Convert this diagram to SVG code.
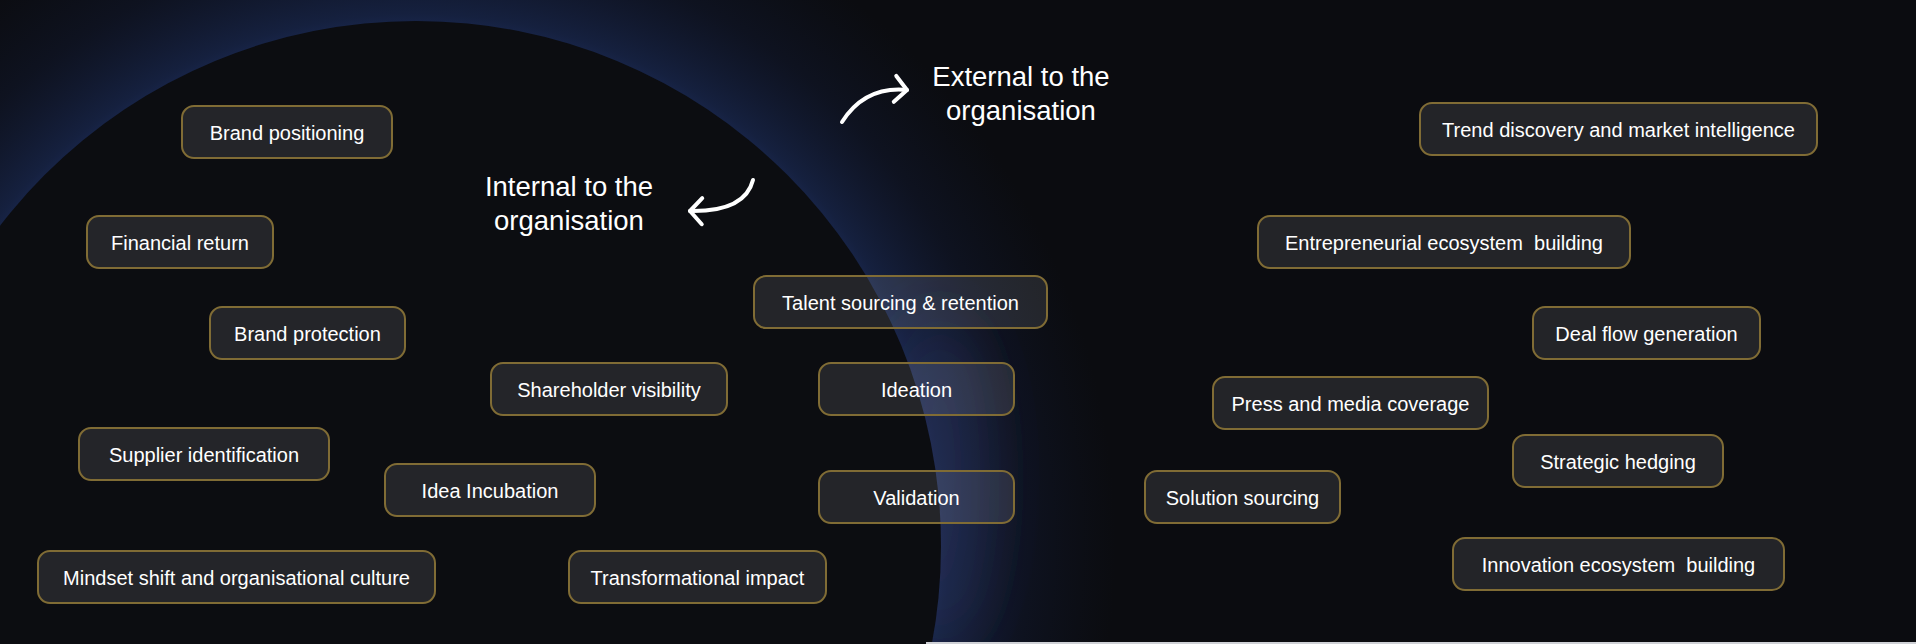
<svg xmlns="http://www.w3.org/2000/svg" width="1916" height="644" viewBox="0 0 1916 644">
  <defs>
    <style>
      .node rect { fill: #ffffff; fill-opacity: 0.1; stroke: #806c35; stroke-width: 2; }
      .node text { font-family: "Liberation Sans", Arial, sans-serif; font-size: 20px; fill: #ffffff; text-anchor: middle; }
      .head { font-family: "Liberation Sans", Arial, sans-serif; font-size: 27.5px; fill: #ffffff; text-anchor: middle; }
      .arrow { fill: none; stroke: #ffffff; stroke-width: 4; stroke-linecap: round; stroke-linejoin: round; }
    </style>
    <radialGradient id="glow" gradientUnits="userSpaceOnUse" cx="416" cy="546" r="700">
      <stop offset="0.74" stop-color="#19264c" stop-opacity="1"/>
      <stop offset="0.76" stop-color="#172447" stop-opacity="0.85"/>
      <stop offset="0.87" stop-color="#131c38" stop-opacity="0.4"/>
      <stop offset="1" stop-color="#101830" stop-opacity="0"/>
    </radialGradient>
    <filter id="blur" x="-100%" y="-100%" width="300%" height="300%">
      <feGaussianBlur stdDeviation="30"/>
    </filter>
    <marker id="chev" markerUnits="userSpaceOnUse" markerWidth="40" markerHeight="40" refX="0" refY="0" viewBox="-20 -20 40 40" orient="auto" overflow="visible">
      <path d="M-12,-13 L0,0 L-12,13" fill="none" stroke="#ffffff" stroke-width="4" stroke-linecap="round" stroke-linejoin="round"/>
    </marker>
  </defs>

  <rect x="0" y="0" width="1916" height="644" fill="#0b0c10"/>

  <g id="background">
    <circle cx="416" cy="546" r="700" fill="url(#glow)"/>
    <ellipse cx="940" cy="480" rx="50" ry="170" fill="#3a4272" fill-opacity="0.3" filter="url(#blur)"/>
    <circle cx="416" cy="546" r="525" fill="#0c0d11"/>
    <rect x="926" y="642" width="990" height="2" fill="#cfd1d6"/>
  </g>

  <g id="headings">
    <text class="head" x="1021" y="86">External to the</text>
    <text class="head" x="1021" y="120">organisation</text>
    <text class="head" x="569" y="196">Internal to the</text>
    <text class="head" x="569" y="230">organisation</text>
  </g>

  <g id="connectors">
    <path class="arrow" d="M842,122 Q865,86 907,90" marker-end="url(#chev)"/>
    <path class="arrow" d="M753,180 Q745,212 690,211" marker-end="url(#chev)"/>
  </g>

  <g id="node-brand-positioning" class="node"><rect x="182" y="106" width="210" height="52" rx="12"/><text x="287" y="140">Brand positioning</text></g>
  <g id="node-financial-return" class="node"><rect x="87" y="216" width="186" height="52" rx="12"/><text x="180" y="250">Financial return</text></g>
  <g id="node-brand-protection" class="node"><rect x="210" y="307" width="195" height="52" rx="12"/><text x="307.5" y="341">Brand protection</text></g>
  <g id="node-talent-sourcing" class="node"><rect x="754" y="276" width="293" height="52" rx="12"/><text x="900.5" y="310">Talent sourcing &amp; retention</text></g>
  <g id="node-shareholder-visibility" class="node"><rect x="491" y="363" width="236" height="52" rx="12"/><text x="609" y="397">Shareholder visibility</text></g>
  <g id="node-ideation" class="node"><rect x="819" y="363" width="195" height="52" rx="12"/><text x="916.5" y="397">Ideation</text></g>
  <g id="node-supplier-identification" class="node"><rect x="79" y="428" width="250" height="52" rx="12"/><text x="204" y="462">Supplier identification</text></g>
  <g id="node-idea-incubation" class="node"><rect x="385" y="464" width="210" height="52" rx="12"/><text x="490" y="498">Idea Incubation</text></g>
  <g id="node-validation" class="node"><rect x="819" y="471" width="195" height="52" rx="12"/><text x="916.5" y="505">Validation</text></g>
  <g id="node-mindset-shift" class="node"><rect x="38" y="551" width="397" height="52" rx="12"/><text x="236.5" y="585">Mindset shift and organisational culture</text></g>
  <g id="node-transformational-impact" class="node"><rect x="569" y="551" width="257" height="52" rx="12"/><text x="697.5" y="585">Transformational impact</text></g>
  <g id="node-trend-discovery" class="node"><rect x="1420" y="103" width="397" height="52" rx="12"/><text x="1618.5" y="137">Trend discovery and market intelligence</text></g>
  <g id="node-entrepreneurial-ecosystem" class="node"><rect x="1258" y="216" width="372" height="52" rx="12"/><text x="1444" y="250" style="white-space:pre">Entrepreneurial ecosystem  building</text></g>
  <g id="node-deal-flow" class="node"><rect x="1533" y="307" width="227" height="52" rx="12"/><text x="1646.5" y="341">Deal flow generation</text></g>
  <g id="node-press-media" class="node"><rect x="1213" y="377" width="275" height="52" rx="12"/><text x="1350.5" y="411">Press and media coverage</text></g>
  <g id="node-strategic-hedging" class="node"><rect x="1513" y="435" width="210" height="52" rx="12"/><text x="1618" y="469">Strategic hedging</text></g>
  <g id="node-solution-sourcing" class="node"><rect x="1145" y="471" width="195" height="52" rx="12"/><text x="1242.5" y="505">Solution sourcing</text></g>
  <g id="node-innovation-ecosystem" class="node"><rect x="1453" y="538" width="331" height="52" rx="12"/><text x="1618.5" y="572" style="white-space:pre">Innovation ecosystem  building</text></g>
</svg>
